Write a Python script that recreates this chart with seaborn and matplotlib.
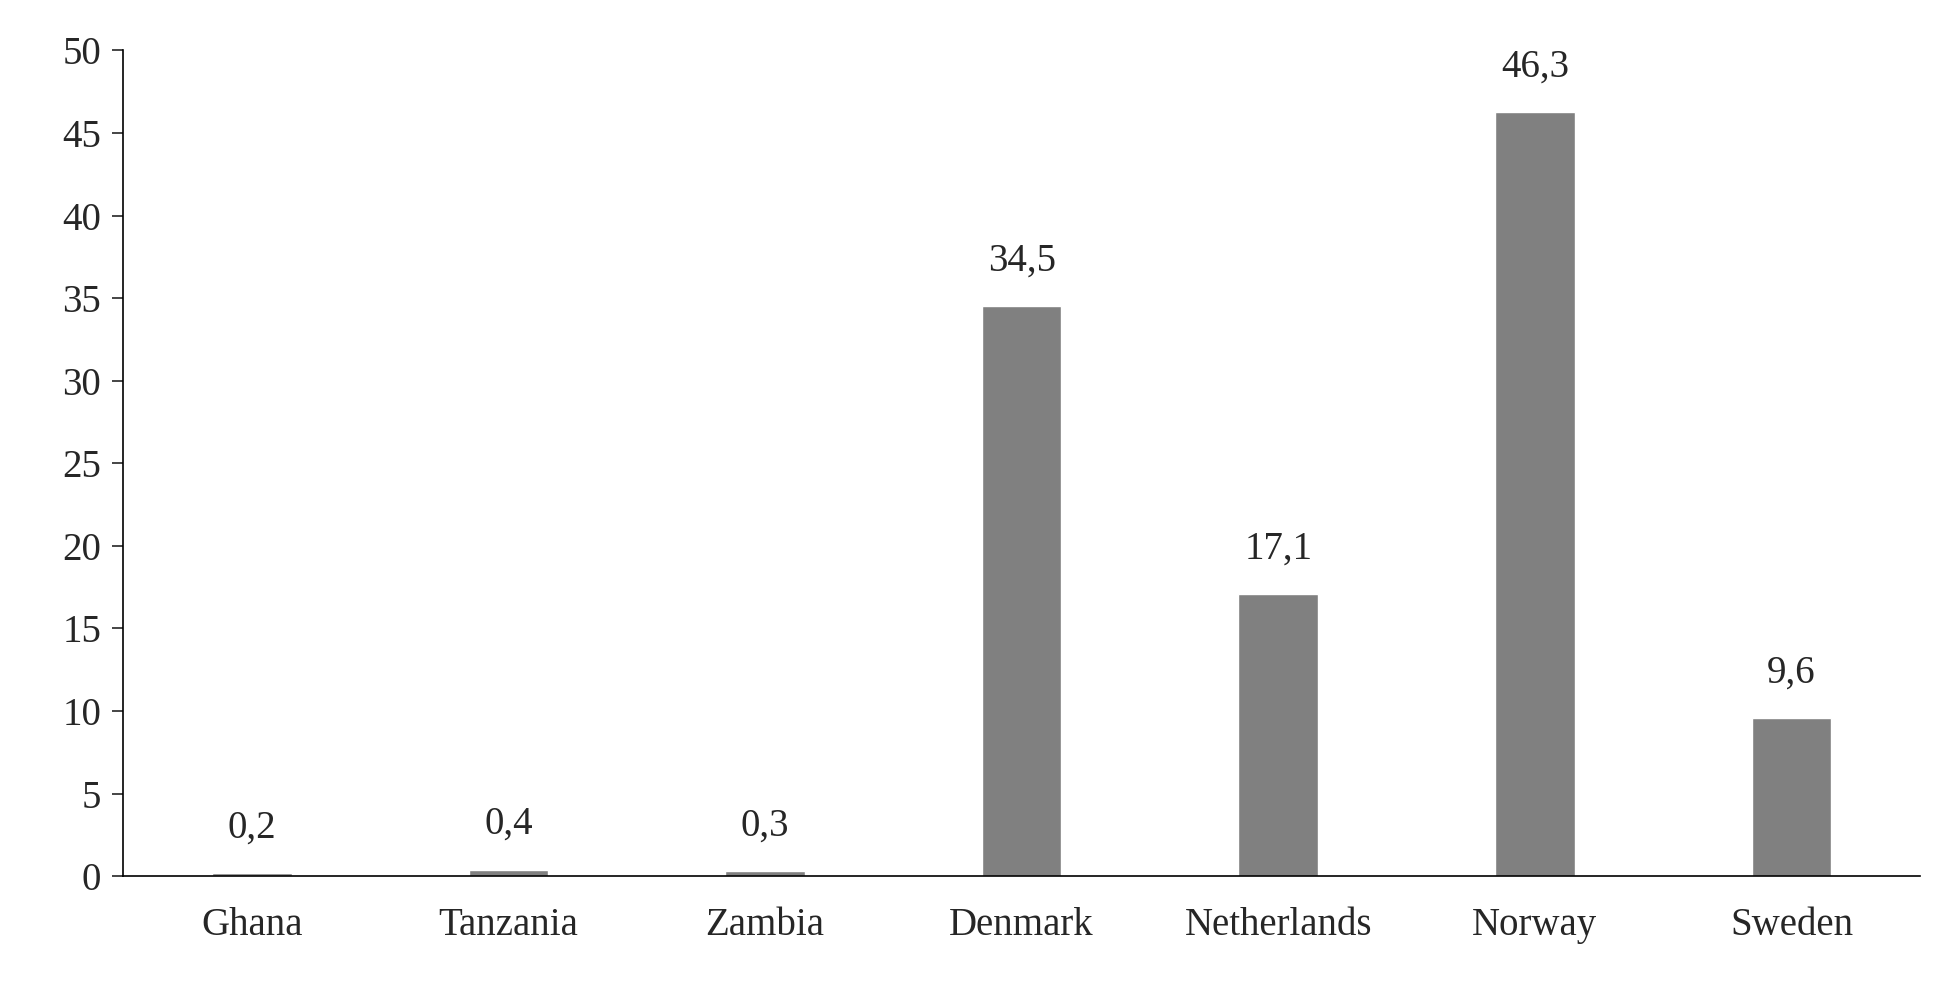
import matplotlib
matplotlib.use("Agg")
import matplotlib.pyplot as plt
import seaborn as sns
import pandas as pd

countries = ["Ghana", "Tanzania", "Zambia", "Denmark", "Netherlands", "Norway", "Sweden"]
values = [0.2, 0.4, 0.3, 34.5, 17.1, 46.3, 9.6]
labels = ["0,2", "0,4", "0,3", "34,5", "17,1", "46,3", "9,6"]
yticks = [0, 5, 10, 15, 20, 25, 30, 35, 40, 45, 50]

sns.set_style("white")
plt.rcParams['font.family'] = ['Liberation Serif', 'DejaVu Serif']

df = pd.DataFrame({"country": countries, "value": values})
fig = plt.figure(figsize=(19.59, 9.9), dpi=100)
ax = fig.add_axes([0.063, 0.115, 0.917, 0.834])
sns.barplot(data=df, x="country", y="value", color="#808080", saturation=1, width=0.31, ax=ax)
for i, (v, l) in enumerate(zip(values, labels)):
    ax.text(i, v + 1.6, l, ha="center", va="bottom", fontsize=28)
ax.set_ylim(0, 50)
ax.set_yticks(yticks)
ax.set_xlim(-0.5, 6.5)
ax.set_xlabel("")
ax.set_ylabel("")
ax.tick_params(axis="y", labelsize=28, length=8, width=1.2, direction="out", left=True, pad=8)
ax.tick_params(axis="x", labelsize=28, length=0, pad=22)
for s in ["top", "right"]:
    ax.spines[s].set_visible(False)
for s in ["left", "bottom"]:
    ax.spines[s].set_color("black")
    ax.spines[s].set_linewidth(1.2)
fig.savefig("out.png", dpi=100)
